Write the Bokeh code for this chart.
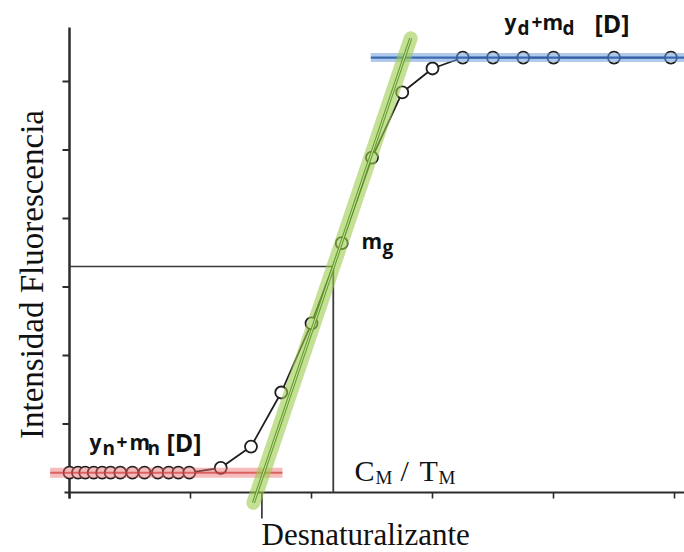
from bokeh.plotting import figure
from bokeh.models import Range1d, Label
from bokeh.embed import file_html
from bokeh.resources import INLINE
import math

# --- data: denaturation curve (denaturant concentration vs fluorescence) ---
denat = [0.0, 0.07, 0.13, 0.20, 0.27, 0.34, 0.42, 0.52, 0.62, 0.73, 0.82, 0.90, 0.99,
         1.25, 1.50, 1.75, 2.00, 2.25, 2.50, 2.75, 3.00, 3.25, 3.50, 3.75, 4.00, 4.50, 4.97]
fluor = [0.29, 0.29, 0.29, 0.29, 0.29, 0.29, 0.29, 0.29, 0.29, 0.29, 0.29, 0.29, 0.29,
         0.36, 0.67, 1.46, 2.47, 3.64, 4.89, 5.84, 6.19, 6.35, 6.35, 6.35, 6.35, 6.35, 6.35]

# baselines and transition slope
native_x = [-0.16, 1.76]
native_y = [0.29, 0.29]
denatured_x = [2.49, 5.2]
denatured_y = [6.35, 6.35]
transition_x = [1.52, 2.82]
transition_y = [-0.15, 6.63]

# midpoint of the transition
cm_x = 2.18
cm_y = 3.30

# axis ticks
x_ticks = [0, 1, 2, 3, 4, 5]
y_ticks = [1, 2, 3, 4, 5, 6]
x_axis_end = 5.2
y_axis_top = 6.79
cm_tick_x = 1.59

# pixel layout of the drawing area
W, H = 684, 552
X0, Y0 = 69, 492          # pixel position of the origin
SX, SY = 121.0, 68.5       # pixels per unit
BASE_SHIFT = 0.38          # em offset between anchor and rendered baseline


def dx(px):
    return (px - X0) / SX


def dy(py):
    return (Y0 - py) / SY


p = figure(width=W, height=H, output_backend="svg", toolbar_location=None,
           x_axis_location=None, y_axis_location=None, min_border=0,
           x_range=Range1d(dx(0), dx(W)), y_range=Range1d(dy(H), dy(0)))
p.grid.visible = False
p.outline_line_color = None
p.background_fill_color = "white"
p.border_fill_color = "white"

AX = "#2b2b2b"
# axes lines
p.line([0, 0], [dy(498), y_axis_top], line_color=AX, line_width=2.5)
p.line([dx(64), x_axis_end], [0, 0], line_color=AX, line_width=2)
# tick marks
p.segment(x0=[dx(62)] * len(y_ticks), y0=y_ticks, x1=[0] * len(y_ticks), y1=y_ticks,
          line_color=AX, line_width=2)
p.segment(x0=x_ticks, y0=[0] * len(x_ticks), x1=x_ticks, y1=[dy(498)] * len(x_ticks),
          line_color=AX, line_width=1.6)
p.segment(x0=[cm_tick_x], y0=[0], x1=[cm_tick_x], y1=[dy(518)],
          line_color=AX, line_width=1.6)

# reference lines at the midpoint
p.line([0, cm_x], [cm_y, cm_y], line_color="#3a3a3a", line_width=1.5)
p.line([cm_x, cm_x], [cm_y, 0], line_color="#3a3a3a", line_width=1.8)

# fitted curve and points
p.line(denat, fluor, line_color="#1e1e1e", line_width=1.8, line_join="round")
p.scatter(denat, fluor, size=12, marker="circle", fill_color="white",
          line_color="#1e1e1e", line_width=1.8)

# highlighted baselines and transition slope
p.line(native_x, native_y, line_color="#ec6a6a", line_width=10, line_alpha=0.45)
p.line(native_x, native_y, line_color="#d03c3c", line_width=2, line_alpha=0.7)
p.line(denatured_x, denatured_y, line_color="#6d9fdc", line_width=9, line_alpha=0.55)
p.line(denatured_x, denatured_y, line_color="#2f5fa8", line_width=2.2, line_alpha=0.9)
p.line(transition_x, transition_y, line_color="#9ccc4c", line_width=14, line_alpha=0.6,
       line_cap="round")
p.line(transition_x, transition_y, line_color="#5c9a24", line_width=3.2, line_alpha=0.9)
p.line(transition_x, transition_y, line_color="#d6ecb0", line_width=1, line_alpha=0.9)


def txt(px, py, s, size, font="Open Sans", style="bold", angle=0.0, align="left"):
    # (px, py): baseline position in pixels from the top-left corner
    off = BASE_SHIFT * size
    if angle:
        px, py = px - off, py
    else:
        py = py - off
    p.add_layout(Label(x=dx(px), y=dy(py), text=s, text_font=font,
                       text_font_size=f"{size}px", text_font_style=style,
                       text_color="#111111", text_align=align,
                       text_baseline="alphabetic", angle=angle))


# y_n + m_n [D]
txt(89, 449, "y", 21)
txt(102, 455, "n", 19)
txt(116, 449, "+", 19)
txt(129, 449, "m", 21)
txt(147, 455, "n", 19)
txt(166, 451, "[D]", 25)

# y_d + m_d [D]
txt(504, 29, "y", 21)
txt(517, 35, "d", 19)
txt(531, 29, "+", 19)
txt(542, 29, "m", 21)
txt(562, 35, "d", 19)
txt(594, 32, "[D]", 25)

# m_g
txt(361, 248, "m", 21)
txt(382, 254, "g", 19)

# C_M / T_M
SERIF = "Liberation Serif"
txt(354, 481, "C", 30, SERIF, "normal")
txt(375, 484, "M", 19, SERIF, "normal")
txt(400, 481, "/", 30, SERIF, "normal")
txt(419, 481, "T", 30, SERIF, "normal")
txt(438, 484, "M", 19, SERIF, "normal")

# axis titles
txt(261, 546, "Desnaturalizante", 31, SERIF, "normal")
txt(44, 274, "Intensidad Fluorescencia", 33, SERIF, "normal", angle=math.pi / 2, align="center")

open("out.html", "w").write(file_html(p, INLINE))
